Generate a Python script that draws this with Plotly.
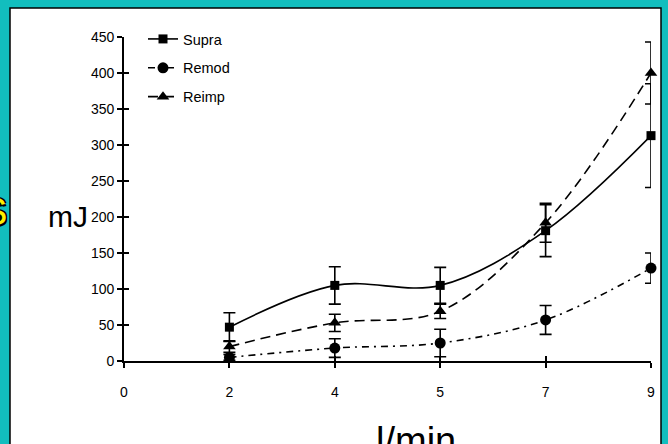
import plotly.graph_objects as go

# ---- data ----
x_labels = ['0', '2', '4', '5', '7', '9']
categories = ['2', '4', '5', '7', '9']
supra = [47, 105, 105, 181, 313]
supra_err = [20, 26, 25, 36, 72]
remod = [5, 18, 25, 57, 129]
remod_err = [4, 13, 19, 20, 21]
reimp = [20, 53, 69, 192, 400]
reimp_err = [8, 12, 10, 27, 43]
y_ticks = [0, 50, 100, 150, 200, 250, 300, 350, 400, 450]

xpos = [x_labels.index(c) for c in categories]

W, H = 668, 444
L, R, T, B = 124, 17, 37, 83
pw, ph = W - L - R, H - T - B

def px_x(p):
    return (p - L) / pw

def px_y(p):
    return (H - B - p) / ph

TEAL = '#12BEBE'
FONT = 'Liberation Sans, Arial, sans-serif'

fig = go.Figure()

def add(name, y, err, symbol, size, dash):
    fig.add_trace(go.Scatter(
        x=xpos, y=y, name=name, mode='lines+markers',
        line=dict(color='black', width=1.6, shape='spline', smoothing=1, dash=dash),
        marker=dict(symbol=symbol, size=size, color='black'),
        error_y=dict(type='data', array=err, visible=True, color='black', thickness=1.6, width=6),
        cliponaxis=False, legendgroup=name,
    ))

add('Supra', supra, supra_err, 'square', 9, 'solid')
add('Remod', remod, remod_err, 'circle', 11, '7px,5px,2px,5px')
add('Reimp', reimp, reimp_err, 'triangle-up', 11, '10px,6px')

# invisible trace on overlay axes (for crossing ticks)
fig.add_trace(go.Scatter(x=[0], y=[0], xaxis='x2', yaxis='y2', mode='markers',
                         marker=dict(opacity=0), showlegend=False, hoverinfo='skip'))

fig.update_layout(
    width=W, height=H,
    margin=dict(l=L, r=R, t=T, b=B),
    paper_bgcolor=TEAL, plot_bgcolor='rgba(0,0,0,0)',
    font=dict(family=FONT, size=14, color='black'),
    showlegend=True,
    legend=dict(x=px_x(143), y=px_y(23), xanchor='left', yanchor='top',
                bgcolor='rgba(0,0,0,0)', font=dict(size=14.5, family=FONT),
                traceorder='grouped', tracegroupgap=7, itemwidth=30),
    xaxis=dict(range=[0, 5], tickvals=list(range(len(x_labels))), ticktext=x_labels,
               showgrid=False, zeroline=False, showline=True, linecolor='black', linewidth=1.6,
               ticks='outside', ticklen=5, tickwidth=1.6, tickcolor='black',
               ticklabelstandoff=12, tickfont=dict(size=14)),
    yaxis=dict(range=[0, 450], tickvals=y_ticks,
               showgrid=False, zeroline=False, showline=True, linecolor='black', linewidth=1.6,
               ticks='outside', ticklen=5, tickwidth=1.6, tickcolor='black',
               tickfont=dict(size=14)),
    xaxis2=dict(overlaying='x', matches='x', anchor='y2', range=[0, 5],
                tickvals=list(range(len(x_labels))), showticklabels=False, showgrid=False,
                zeroline=False, showline=False, ticks='inside', ticklen=5, tickwidth=1.6,
                tickcolor='black'),
    yaxis2=dict(overlaying='y', matches='y', anchor='x2', range=[0, 450], tickvals=y_ticks,
                showticklabels=False, showgrid=False, zeroline=False, showline=False,
                ticks='inside', ticklen=5, tickwidth=1.6, tickcolor='black'),
    shapes=[dict(type='rect', xref='paper', yref='paper', layer='below',
                 x0=px_x(10), x1=px_x(661), y0=px_y(460), y1=px_y(8),
                 fillcolor='white', line=dict(color='black', width=1.5))],
    annotations=[
        dict(text='mJ', xref='paper', yref='paper', x=px_x(68), y=px_y(216),
             xanchor='center', yanchor='middle',
             showarrow=False, font=dict(size=30, family=FONT, color='black')),
        dict(text='l/min', xref='paper', yref='paper', x=px_x(416), y=px_y(418),
             xanchor='center', yanchor='top', showarrow=False,
             font=dict(size=38, family=FONT, color='black')),
        dict(text='S', xref='paper', yref='paper', x=px_x(-6), y=px_y(212),
             xanchor='center', yanchor='middle',
             showarrow=False,
             font=dict(size=38, family=FONT, color='#FFEE00',
                       shadow='1.5px 1.5px 0 #000, -1.5px -1.5px 0 #000, 1.5px -1.5px 0 #000, -1.5px 1.5px 0 #000')),
    ],
)

fig.write_html('out.html', config={'displayModeBar': False},
               post_script="document.body.style.margin='0';document.body.style.overflow='hidden';")
